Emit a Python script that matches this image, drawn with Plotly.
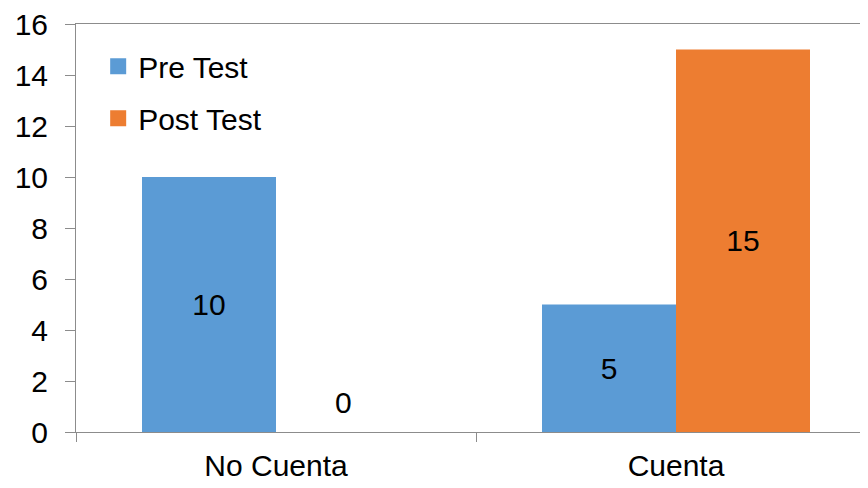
import plotly.graph_objects as go

categories = ["No Cuenta", "Cuenta"]
pre_test = [10, 5]
post_test = [0, 15]
series_names = ["Pre Test", "Post Test"]
colors = ["#5B9BD5", "#ED7D31"]

font = "Liberation Sans, Arial, sans-serif"
axis_grey = "#8C8C8C"
label_size = 30

fig = go.Figure()
for i, (name, values) in enumerate(zip(series_names, [pre_test, post_test])):
    fig.add_trace(
        go.Bar(
            x=categories,
            y=values,
            name=name,
            showlegend=False,
            offsetgroup=str(i),
            marker={"color": colors[i], "line": {"width": 0}},
            text=[str(v) if v > 0 else "" for v in values],
            textposition="inside",
            insidetextanchor="middle",
            textfont={"family": font, "size": label_size, "color": "black"},
        )
    )
    # legend entry with a bigger square swatch
    fig.add_trace(
        go.Scatter(
            x=[None],
            y=[None],
            mode="markers",
            name=name,
            legendgroup=name,
            marker={"symbol": "square", "size": 18, "color": colors[i]},
        )
    )
    # zero-valued bars get their label just above the axis
    for cat, v in zip(categories, values):
        if v == 0:
            fig.add_annotation(
                x=cat,
                y=v,
                text=str(v),
                showarrow=False,
                yanchor="bottom",
                yshift=11,
                xshift=67 if i == 1 else -67,
                font={"family": font, "size": label_size, "color": "black"},
            )

fig.update_layout(
    width=860,
    height=480,
    margin={"l": 68, "r": 0, "t": 16, "b": 56},
    paper_bgcolor="white",
    plot_bgcolor="white",
    barmode="group",
    bargap=0.33,
    bargroupgap=0,
    font={"family": font, "size": label_size, "color": "black"},
    legend={
        "x": 0.028,
        "y": 0.96,
        "xanchor": "left",
        "yanchor": "top",
        "bgcolor": "rgba(0,0,0,0)",
        "font": {"size": label_size},
        "traceorder": "grouped",
        "tracegroupgap": 10,
        "itemsizing": "trace",
    },
    xaxis={
        "range": [-0.5, 1.48],
        "showline": True,
        "linecolor": axis_grey,
        "linewidth": 1,
        "mirror": True,
        "ticks": "outside",
        "tickson": "boundaries",
        "ticklen": 9,
        "tickcolor": axis_grey,
        "ticklabelstandoff": 7,
        "showgrid": False,
        "tickfont": {"size": label_size},
    },
    yaxis={
        "range": [0, 16],
        "dtick": 2,
        "showline": True,
        "linecolor": axis_grey,
        "linewidth": 1,
        "ticks": "outside",
        "ticklen": 10,
        "tickcolor": axis_grey,
        "ticklabelstandoff": 11,
        "ticklabeloverflow": "allow",
        "showgrid": False,
        "zeroline": False,
        "tickfont": {"size": label_size},
    },
)

fig.write_html("out.html")
